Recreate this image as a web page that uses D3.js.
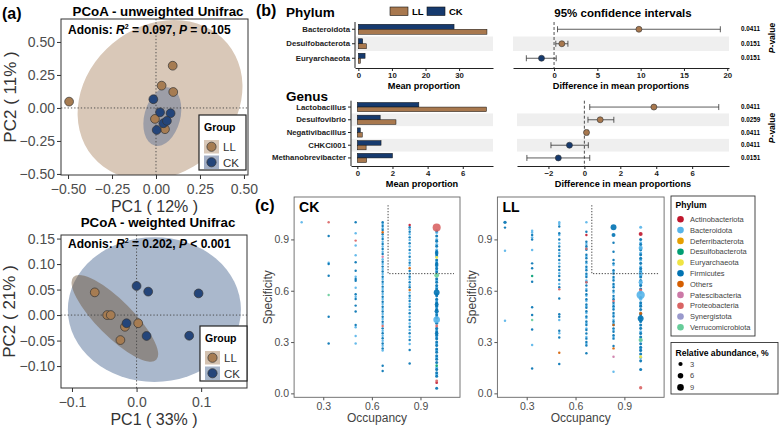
<!DOCTYPE html>
<html>
<head>
<meta charset="utf-8">
<script src="https://cdn.jsdelivr.net/npm/d3@7"></script>
<style>
  body { margin: 0; background: #fff; }
  svg { font-family: "Liberation Sans", Arial, Helvetica, sans-serif; }
</style>
</head>
<body>
<svg id="fig" width="779" height="429"></svg>
<script>
const FONT = '"Liberation Sans", Arial, Helvetica, sans-serif';

// ---------- (a) PCoA points [PC1, PC2]
const unwLL = [[-0.494, 0.048], [0.095, 0.32], [0.032, 0.169], [0.098, 0.121], [-0.006, -0.083], [0.051, -0.161]];
const unwCK = [[-0.015, 0.066], [0.023, -0.033], [0.083, -0.04], [0.042, -0.116], [0.004, -0.167], [0.062, -0.098]];
const wLL = [[-0.0647, 0.0445], [-0.0455, 0.0], [-0.04, 0.0], [-0.018, -0.023], [0.0025, -0.016], [-0.025, -0.049]];
const wCK = [[0, 0.057], [0.018, 0.046], [0.096, 0.0425], [-0.0155, -0.016], [0.0155, -0.041], [0.0815, -0.0405]];
// ellipses [cx, cy, rx, ry, angle]
const unwEllLL = [0.023, 0.06, 0.5, 0.56, -40];
const unwEllCK = [0.036, -0.066, 0.102, 0.227, 15];
const wEllCK = [0.0276, 0.0108, 0.134, 0.142, 0];
const wEllLL = [-0.0336, -0.0065, 0.0907, 0.0353, 45];

// ---------- (b) STAMP
const phyla = ["Bacteroidota", "Desulfobacterota", "Euryarchaeota"];
const phylaLL = [38.3, 2.4, 0.6];
const phylaCK = [28.5, 1.3, 2.0];
const phylaDiff = [9.8, 0.9, -1.45];
const phylaLo = [0.4, 0.2, -3.2];
const phylaHi = [19.2, 1.6, 0.25];
const phylaP = ["0.0411", "0.0151", "0.0151"];

const genera = ["Lactobacillus", "Desulfovibrio", "Negativibacillus", "CHKCI001", "Methanobrevibacter"];
const genusLL = [7.35, 2.2, 0.28, 0.5, 0.53];
const genusCK = [3.5, 1.3, 0.17, 1.35, 2.0];
const genusDiff = [3.87, 0.88, 0.12, -0.83, -1.45];
const genusLo = [0.3, 0.2, 0.05, -1.86, -3.2];
const genusHi = [7.48, 1.64, 0.2, 0.22, 0.3];
const genusP = ["0.0411", "0.0259", "0.0411", "0.0411", "0.0151"];

// ---------- (c) occupancy / specificity
const occupancy = [1 / 6, 2 / 6, 3 / 6, 4 / 6, 5 / 6, 1];
const baseAbund = [0.3, 0.3, 0.3, 0.3, 0.3, 1.0];
const phylumNames = ["Actinobacteriota", "Bacteroidota", "Deferribacterota", "Desulfobacterota", "Euryarchaeota",
  "Firmicutes", "Others", "Patescibacteria", "Proteobacteria", "Synergistota", "Verrucomicrobiota"];
const phylumColors = ["#c0162c", "#56b4e9", "#e69f00", "#009e73", "#f0e442",
  "#0072b2", "#d55e00", "#cc79a7", "#d96464", "#9999cc", "#66cc99"];
const abundTicks = [3, 6, 9];

const ckFirm = [
  [],
  [0.92, 0.756, 0.688, 0.448, 0.292],
  [1.0, 0.766, 0.717, 0.669, 0.659, 0.579, 0.552, 0.513, 0.478, 0.40],
  [1.0, 0.979, 0.955, 0.93, 0.903, 0.873, 0.844, 0.815, 0.77, 0.741, 0.712, 0.682, 0.653, 0.624, 0.595, 0.565, 0.536, 0.507, 0.478, 0.448, 0.419, 0.38, 0.351, 0.322, 0.292, 0.263, 0.162, 0.131],
  [0.971, 0.945, 0.912, 0.877, 0.838, 0.799, 0.764, 0.715, 0.682, 0.649, 0.62, 0.571, 0.54, 0.507, 0.468, 0.429, 0.39, 0.351, 0.312, 0.253, 0.175],
  [0.95, 0.92, 0.89, 0.86, 0.83, 0.81, 0.78, 0.76, 0.73, 0.71, 0.67, 0.65, 0.63, 0.61, 0.57, 0.55, 0.53, 0.51, 0.49, 0.46, 0.44, 0.41, 0.38, 0.36, 0.34, 0.32, 0.30, 0.28, 0.26, 0.24, 0.22, 0.20, 0.18, 0.14, 0.12, 0.10, 0.03]
];
const ckBact = [
  [1.0],
  [0.764],
  [0.936, 0.864, 0.807, 0.682, 0.618, 0.565, 0.386, 0.335, 0.292],
  [0.99, 0.965, 0.916, 0.887, 0.858, 0.828, 0.784, 0.756, 0.727, 0.698, 0.669, 0.639, 0.61, 0.581, 0.552, 0.522, 0.493, 0.464, 0.435, 0.405, 0.366, 0.337, 0.308, 0.279, 0.25],
  [0.959, 0.93, 0.897, 0.858, 0.819, 0.78, 0.749, 0.698, 0.667, 0.634, 0.589, 0.556, 0.522, 0.487, 0.448, 0.409, 0.37, 0.331, 0.288],
  [0.94, 0.90, 0.87, 0.84, 0.80, 0.77, 0.74, 0.72, 0.66, 0.62, 0.58, 0.54, 0.50, 0.47, 0.45, 0.42, 0.37, 0.33, 0.29, 0.25, 0.21, 0.15, 0.11]
];
// [column (1-6), specificity, phylum, relative abundance]
const ckExtra = [
  [2, 1.0, "Proteobacteria", 0.3], [2, 0.575, "Verrucomicrobiota", 0.3],
  [3, 0.893, "Proteobacteria", 0.3],
  [4, 0.942, "Others", 0.3], [4, 0.799, "Patescibacteria", 0.3], [4, 0.394, "Proteobacteria", 0.3],
  [5, 0.984, "Actinobacteriota", 0.3], [5, 0.731, "Others", 0.3], [5, 0.604, "Others", 0.3],
  [6, 0.82, "Firmicutes", 2], [6, 0.75, "Firmicutes", 2], [6, 0.52, "Firmicutes", 2.5], [6, 0.35, "Firmicutes", 2],
  [6, 0.969, "Proteobacteria", 14], [6, 0.795, "Euryarchaeota", 0.8], [6, 0.69, "Verrucomicrobiota", 4],
  [6, 0.59, "Firmicutes", 7], [6, 0.48, "Firmicutes", 3], [6, 0.43, "Bacteroidota", 9],
  [6, 0.394, "Proteobacteria", 0.8], [6, 0.162, "Desulfobacterota", 0.6],
  [6, 0.072, "Proteobacteria", 0.8], [6, 0.062, "Actinobacteriota", 0.6]
];

const llFirm = [
  [0.969],
  [0.926, 0.9, 0.76, 0.731, 0.653, 0.503, 0.458, 0.374, 0.146],
  [0.975, 0.936, 0.9, 0.858, 0.838, 0.803, 0.78, 0.741, 0.721, 0.686, 0.663, 0.62, 0.554, 0.462, 0.448, 0.366, 0.327, 0.172],
  [0.945, 0.887, 0.86, 0.84, 0.81, 0.79, 0.77, 0.74, 0.72, 0.70, 0.68, 0.65, 0.63, 0.60, 0.58, 0.55, 0.52, 0.50, 0.48, 0.45, 0.42, 0.40, 0.37, 0.35, 0.32, 0.30, 0.28, 0.234],
  [0.881, 0.828, 0.78, 0.76, 0.72, 0.70, 0.68, 0.66, 0.64, 0.62, 0.60, 0.57, 0.55, 0.53, 0.51, 0.49, 0.47, 0.45, 0.42, 0.40, 0.38, 0.36, 0.34, 0.32, 0.277],
  [0.90, 0.87, 0.84, 0.81, 0.79, 0.76, 0.73, 0.71, 0.68, 0.66, 0.63, 0.61, 0.56, 0.53, 0.51, 0.49, 0.46, 0.42, 0.40, 0.38, 0.35, 0.33, 0.29, 0.27, 0.25, 0.23, 0.19, 0.14]
];
const llBact = [
  [0.834, 0.425],
  [0.951, 0.94, 0.912, 0.838, 0.283],
  [1.0, 0.99, 0.926, 0.877, 0.819, 0.76, 0.702, 0.639, 0.429, 0.351],
  [1.0, 0.873, 0.85, 0.80, 0.76, 0.73, 0.69, 0.66, 0.61, 0.57, 0.54, 0.51, 0.47, 0.44, 0.41, 0.38, 0.33, 0.29],
  [0.75, 0.71, 0.67, 0.63, 0.59, 0.56, 0.52, 0.50, 0.46, 0.43, 0.41, 0.37, 0.33, 0.127],
  [0.971, 0.88, 0.85, 0.82, 0.78, 0.74, 0.72, 0.69, 0.64, 0.59, 0.55, 0.52, 0.47, 0.44, 0.36, 0.31, 0.26, 0.21]
];
const llExtra = [
  [1, 1.0, "Firmicutes", 1.5],
  [2, 0.686, "Desulfobacterota", 0.3], [2, 0.429, "Verrucomicrobiota", 0.3],
  [3, 0.608, "Proteobacteria", 0.3], [3, 0.238, "Others", 0.3],
  [4, 0.926, "Actinobacteriota", 0.3], [4, 0.845, "Proteobacteria", 0.3], [4, 0.65, "Proteobacteria", 0.3],
  [5, 0.971, "Firmicutes", 7], [5, 0.926, "Firmicutes", 2.5], [5, 0.54, "Proteobacteria", 0.3],
  [5, 0.40, "Others", 0.3], [5, 0.263, "Others", 0.3], [5, 0.214, "Patescibacteria", 0.3],
  [6, 0.932, "Actinobacteriota", 2.5], [6, 0.85, "Bacteroidota", 3], [6, 0.70, "Bacteroidota", 3],
  [6, 0.65, "Bacteroidota", 3], [6, 0.604, "Proteobacteria", 1.2], [6, 0.575, "Bacteroidota", 15],
  [6, 0.468, "Others", 1.2], [6, 0.438, "Firmicutes", 7], [6, 0.312, "Verrucomicrobiota", 3],
  [6, 0.214, "Euryarchaeota", 1], [6, 0.033, "Proteobacteria", 1.5]
];

const LLcol = "#a67c52", CKcol = "#24457a";
const barLL = "#a8784e", barCK = "#163a6e";

const svg = d3.select("#fig");

function label(g, x, y, s, size, opt = {}) {
  return g.append("text").attr("x", x).attr("y", y).text(s)
    .attr("font-size", size).attr("font-weight", opt.bold ? "bold" : null)
    .attr("text-anchor", opt.anchor || "start").attr("fill", opt.fill || "#000");
}

function styleAxis(ax, size, color, bold) {
  ax.attr("font-family", FONT);
  ax.selectAll("text").attr("font-size", size).attr("fill", color).attr("font-weight", bold ? "bold" : null);
}

// ================= (a) =================
function pcoa(cfg) {
  const g = svg.append("g");
  const [l, t, r, b] = cfg.box;
  const x = d3.scaleLinear().domain(cfg.xDomain).range([l, r]);
  const y = d3.scaleLinear().domain(cfg.yDomain).range([b, t]);
  g.append("clipPath").attr("id", "clip" + cfg.id).append("rect")
    .attr("x", l).attr("y", t).attr("width", r - l).attr("height", b - t);
  const pg = g.append("g").attr("clip-path", `url(#clip${cfg.id})`);
  cfg.ellipses.forEach(([e, fill, op]) => {
    const cx = x(e[0]), cy = y(e[1]);
    pg.append("ellipse").attr("cx", cx).attr("cy", cy)
      .attr("rx", x(e[0] + e[2]) - cx).attr("ry", cy - y(e[1] + e[3]))
      .attr("transform", `rotate(${e[4]},${cx},${cy})`)
      .attr("fill", fill).attr("fill-opacity", op);
  });
  pg.append("line").attr("x1", x(0)).attr("x2", x(0)).attr("y1", t).attr("y2", b)
    .attr("stroke", "#444").attr("stroke-width", 0.9).attr("stroke-dasharray", "1.3,2");
  pg.append("line").attr("x1", l).attr("x2", r).attr("y1", y(0)).attr("y2", y(0))
    .attr("stroke", "#444").attr("stroke-width", 0.9).attr("stroke-dasharray", "1.3,2");
  [[cfg.ll, LLcol], [cfg.ck, CKcol]].forEach(([pts, c]) => {
    pg.selectAll(null).data(pts).enter().append("circle")
      .attr("cx", d => x(d[0])).attr("cy", d => y(d[1])).attr("r", 4.4)
      .attr("fill", c).attr("stroke", "#333").attr("stroke-width", 0.7);
  });
  g.append("rect").attr("x", l).attr("y", t).attr("width", r - l).attr("height", b - t)
    .attr("fill", "none").attr("stroke", "#333").attr("stroke-width", 1);

  const ax = g.append("g").attr("transform", `translate(0,${b})`)
    .call(d3.axisBottom(x).tickValues(cfg.xTicks).tickFormat(d3.format(cfg.xFmt)).tickSize(4).tickPadding(5));
  ax.select(".domain").remove();
  ax.selectAll("line").attr("stroke", "#333");
  styleAxis(ax, 14, "#4d4d4d");
  const ay = g.append("g").attr("transform", `translate(${l},0)`)
    .call(d3.axisLeft(y).tickValues(cfg.yTicks).tickFormat(d3.format(cfg.yFmt)).tickSize(4).tickPadding(2));
  ay.select(".domain").remove();
  ay.selectAll("line").attr("stroke", "#333");
  styleAxis(ay, 14, "#4d4d4d");

  label(g, (l + r) / 2, b + 36.5, cfg.xTitle, 16, { anchor: "middle", fill: "#333" });
  g.append("text").attr("transform", `translate(${cfg.yTitleX},${(t + b) / 2}) rotate(-90)`)
    .attr("text-anchor", "middle").attr("dy", "0.35em").attr("font-size", 17).attr("fill", "#333").text(cfg.yTitle);
  label(g, 158, cfg.titleY, cfg.title, 13.3, { bold: true, anchor: "middle" });

  const ad = g.append("text").attr("x", l + 7).attr("y", cfg.adonisY).attr("font-size", 12).attr("font-weight", "bold");
  ad.append("tspan").text("Adonis: ");
  ad.append("tspan").attr("font-style", "italic").text("R");
  ad.append("tspan").attr("font-size", 7).attr("dy", -5).text("2");
  ad.append("tspan").attr("dy", 5).text(" = " + cfg.r2 + ", ");
  ad.append("tspan").attr("font-style", "italic").text("P");
  ad.append("tspan").text(cfg.p);

  const [lx, ly] = cfg.legend;
  g.append("rect").attr("x", lx).attr("y", ly).attr("width", 47).attr("height", 55)
    .attr("fill", "#fff").attr("stroke", "#222").attr("stroke-width", 1.2);
  label(g, lx + 5, ly + 16, "Group", 10.5, { bold: true });
  [["LL", LLcol, cfg.swatch[0]], ["CK", CKcol, cfg.swatch[1]]].forEach(([name, c, sw], i) => {
    const yy = ly + 25 + i * 15.5;
    g.append("rect").attr("x", lx + 5).attr("y", yy).attr("width", 15).attr("height", 13.5).attr("fill", sw);
    g.append("circle").attr("cx", lx + 12.5).attr("cy", yy + 6.75).attr("r", 4.6)
      .attr("fill", c).attr("stroke", "#333").attr("stroke-width", 0.7);
    label(g, lx + 24, yy + 11, name, 11.5, { fill: "#333" });
  });
}

label(svg, 2, 19, "(a)", 16, { bold: true });
pcoa({
  id: "u", box: [61, 19, 248, 175], xDomain: [-0.54, 0.523], yDomain: [-0.508, 0.674],
  xTicks: [-0.5, -0.25, 0, 0.25, 0.5], yTicks: [-0.5, -0.25, 0, 0.25, 0.5], xFmt: ".2f", yFmt: ".2f",
  ll: unwLL, ck: unwCK,
  ellipses: [[unwEllLL, "#d9c8b8", 1], [unwEllCK, "#3c5a8c", 0.38]],
  swatch: ["#d9c8b8", "#a3afc6"],
  xTitle: "PC1 ( 12% )", yTitle: "PC2 ( 11% )", yTitleX: 10, title: "PCoA - unweighted Unifrac", titleY: 16,
  r2: "0.097", p: " = 0.105", adonisY: 34, legend: [199, 115]
});
pcoa({
  id: "w", box: [61, 235, 247, 388], xDomain: [-0.117, 0.171], yDomain: [-0.143, 0.157],
  xTicks: [-0.1, 0, 0.1], yTicks: [-0.1, -0.05, 0, 0.05, 0.1, 0.15], xFmt: ".1f", yFmt: ".2f",
  ll: wLL, ck: wCK,
  ellipses: [[wEllCK, "#aab8cc", 1], [wEllLL, "#6b4f33", 0.45]],
  swatch: ["#d4c2b0", "#a5b4c9"],
  xTitle: "PC1 ( 33% )", yTitle: "PC2 ( 21% )", yTitleX: 9, title: "PCoA - weighted Unifrac", titleY: 227,
  r2: "0.202", p: " < 0.001", adonisY: 248, legend: [200, 326]
});

// ================= (b) =================
function bars(cfg) {
  const g = svg.append("g");
  const yb = d3.scaleBand().domain(cfg.cats).range(cfg.band);
  const x = d3.scaleLinear().domain(cfg.xDomain).range(cfg.xRange);
  cfg.cats.forEach((c, i) => {
    if (i % 2 === 1) g.append("rect").attr("x", cfg.xRange[0]).attr("y", yb(c)).attr("width", cfg.xRange[1] - cfg.xRange[0])
      .attr("height", yb.bandwidth()).attr("fill", "#efefef");
  });
  const h = cfg.barH;
  g.selectAll(null).data(cfg.cats).enter().append("rect")
    .attr("x", x(0)).attr("y", d => yb(d) + yb.bandwidth() / 2 - h)
    .attr("width", (d, i) => x(cfg.ck[i]) - x(0)).attr("height", h)
    .attr("fill", barCK).attr("stroke", "#111").attr("stroke-width", 0.5);
  g.selectAll(null).data(cfg.cats).enter().append("rect")
    .attr("x", x(0)).attr("y", d => yb(d) + yb.bandwidth() / 2)
    .attr("width", (d, i) => x(cfg.ll[i]) - x(0)).attr("height", h)
    .attr("fill", barLL).attr("stroke", "#111").attr("stroke-width", 0.5);
  const ax = g.append("g").attr("transform", `translate(0,${cfg.axisY})`)
    .call(d3.axisBottom(x).tickValues(cfg.ticks).tickSize(3).tickPadding(1.5).tickSizeOuter(0));
  ax.select(".domain").attr("stroke", "#222");
  ax.selectAll("line").attr("stroke", "#222");
  styleAxis(ax, 7.8, "#222", true);
  const ay = g.append("g").attr("transform", `translate(${cfg.xRange[0]},0)`)
    .call(d3.axisLeft(yb).tickSize(3).tickPadding(2).tickSizeOuter(0));
  ay.select(".domain").remove();
  ay.selectAll("line").attr("stroke", "#222");
  styleAxis(ay, 7.8, "#222", true);
  g.append("line").attr("x1", cfg.xRange[0]).attr("x2", cfg.xRange[0]).attr("y1", cfg.band[0]).attr("y2", cfg.axisY)
    .attr("stroke", "#222");
  label(g, (cfg.xRange[0] + cfg.xRange[1]) / 2, cfg.axisY + 21, "Mean proportion", 9.2, { bold: true, anchor: "middle" });
}

function ci(cfg) {
  const g = svg.append("g");
  const yb = d3.scaleBand().domain(cfg.cats).range(cfg.band);
  const x = d3.scaleLinear().domain(cfg.xDomain).range(cfg.xRange);
  cfg.cats.forEach((c, i) => {
    if (i % 2 === 1) g.append("rect").attr("x", cfg.xRange[0]).attr("y", yb(c)).attr("width", cfg.xRange[1] - cfg.xRange[0])
      .attr("height", yb.bandwidth()).attr("fill", "#efefef");
  });
  g.append("line").attr("x1", x(0)).attr("x2", x(0)).attr("y1", cfg.band[0]).attr("y2", cfg.axisY)
    .attr("stroke", "#222").attr("stroke-width", 0.8).attr("stroke-dasharray", "3,2");
  const cy = d => yb(d) + yb.bandwidth() / 2;
  cfg.cats.forEach((c, i) => {
    const yy = cy(c);
    g.append("line").attr("x1", x(cfg.lo[i])).attr("x2", x(cfg.hi[i])).attr("y1", yy).attr("y2", yy)
      .attr("stroke", "#333").attr("stroke-width", 0.8);
    [cfg.lo[i], cfg.hi[i]].forEach(v => g.append("line").attr("x1", x(v)).attr("x2", x(v))
      .attr("y1", yy - 3).attr("y2", yy + 3).attr("stroke", "#333").attr("stroke-width", 0.8));
  });
  g.selectAll(null).data(cfg.cats).enter().append("circle")
    .attr("cx", (d, i) => x(cfg.diff[i])).attr("cy", cy).attr("r", 3)
    .attr("fill", (d, i) => cfg.diff[i] > 0 ? barLL : barCK).attr("stroke", "#333").attr("stroke-width", 0.6);
  g.selectAll(null).data(cfg.cats).enter().append("text")
    .attr("x", 741).attr("y", d => cy(d) + 2.2).attr("font-size", 6.3).attr("font-weight", "bold")
    .text((d, i) => cfg.p[i]);
  const pv = g.append("text").attr("transform", `translate(775,${cfg.pLabelY}) rotate(-90)`)
    .attr("text-anchor", "middle").attr("font-size", 8.5).attr("font-weight", "bold");
  pv.append("tspan").attr("font-style", "italic").text("P");
  pv.append("tspan").text("-value");
  const ax = g.append("g").attr("transform", `translate(0,${cfg.axisY})`)
    .call(d3.axisBottom(x).tickValues(cfg.ticks).tickSize(3).tickPadding(1.5).tickSizeOuter(0));
  ax.select(".domain").attr("stroke", "#222");
  ax.selectAll("line").attr("stroke", "#222");
  styleAxis(ax, 7.8, "#222", true);
  label(g, (cfg.xRange[0] + cfg.xRange[1]) / 2, cfg.axisY + 21, "Difference in mean proportions", 9.2, { bold: true, anchor: "middle" });
}

label(svg, 256, 16, "(b)", 16, { bold: true });
label(svg, 286, 17, "Phylum", 13.5, { bold: true });
label(svg, 286, 101, "Genus", 13.5, { bold: true });
label(svg, 623, 17, "95% confidence intervals", 11.5, { bold: true, anchor: "middle" });
[["LL", barLL, 390], ["CK", barCK, 427]].forEach(([n, c, xx]) => {
  svg.append("rect").attr("x", xx).attr("y", 7).attr("width", 18).attr("height", 8.5)
    .attr("fill", c).attr("stroke", "#111").attr("stroke-width", 0.6);
  label(svg, xx + 22, 15, n, 9.5, { bold: true });
});

bars({ cats: phyla, ll: phylaLL, ck: phylaCK, band: [22, 65.5], axisY: 68, xDomain: [-1, 40.1], xRange: [355, 493],
  ticks: [0, 10, 20, 30], barH: 5 });
bars({ cats: genera, ll: genusLL, ck: genusCK, band: [100.7, 164.3], axisY: 166, xDomain: [-0.36, 7.72], xRange: [351, 493],
  ticks: [0, 2, 4, 6], barH: 4.6 });
ci({ cats: phyla, diff: phylaDiff, lo: phylaLo, hi: phylaHi, p: phylaP, band: [22, 65.5], axisY: 68,
  xDomain: [-4.74, 20.2], xRange: [513, 729], ticks: [0, 5, 10, 15, 20], pLabelY: 38 });
ci({ cats: genera, diff: genusDiff, lo: genusLo, hi: genusHi, p: genusP, band: [100.7, 164.3], axisY: 166,
  xDomain: [-3.75, 8.05], xRange: [517, 729], ticks: [-2, 0, 2, 4, 6], pLabelY: 128 });

// ================= (c) =================
const phylumColor = d3.scaleOrdinal().domain(phylumNames).range(phylumColors);
const areaScale = d3.scaleLinear().domain([0, 9]).range([1.2, 10.9]);
const radius = v => Math.sqrt(areaScale(v));

function buildPoints(firm, bact, extra) {
  const pts = [];
  bact.forEach((col, i) => col.forEach(s => pts.push({ occ: occupancy[i], spec: s, phylum: "Bacteroidota", ab: baseAbund[i] })));
  firm.forEach((col, i) => col.forEach(s => pts.push({ occ: occupancy[i], spec: s, phylum: "Firmicutes", ab: baseAbund[i] })));
  extra.slice().sort((a, b) => a[3] - b[3])
    .forEach(e => pts.push({ occ: occupancy[e[0] - 1], spec: e[1], phylum: e[2], ab: e[3] }));
  return pts;
}

function occPanel(cfg) {
  const g = svg.append("g");
  const [l, t, r, b] = cfg.box;
  const x = d3.scaleLinear().domain([0.12, 1.144]).range([l, r]);
  const y = d3.scaleLinear().domain([-0.023, 1.148]).range([b, t]);
  g.append("rect").attr("x", l).attr("y", t).attr("width", r - l).attr("height", b - t)
    .attr("fill", "#fff").attr("stroke", "#666").attr("stroke-width", 0.9);
  g.selectAll(null).data(cfg.points).enter().append("circle")
    .attr("cx", d => x(d.occ)).attr("cy", d => y(d.spec)).attr("r", d => radius(d.ab))
    .attr("fill", d => phylumColor(d.phylum)).attr("fill-opacity", 0.9);
  g.append("path").attr("d", `M${x(0.7)},${y(1.1)}V${y(0.7)}H${x(1.107)}`)
    .attr("fill", "none").attr("stroke", "#333").attr("stroke-width", 0.9).attr("stroke-dasharray", "1.3,1.6");
  const ax = g.append("g").attr("transform", `translate(0,${b})`)
    .call(d3.axisBottom(x).tickValues([0.3, 0.6, 0.9]).tickFormat(d3.format(".1f")).tickSize(3).tickPadding(2));
  ax.select(".domain").remove();
  ax.selectAll("line").attr("stroke", "#555");
  styleAxis(ax, 10.5, "#4d4d4d");
  const ay = g.append("g").attr("transform", `translate(${l},0)`)
    .call(d3.axisLeft(y).tickValues([0, 0.3, 0.6, 0.9]).tickFormat(d3.format(".1f")).tickSize(3).tickPadding(2));
  ay.select(".domain").remove();
  ay.selectAll("line").attr("stroke", "#555");
  styleAxis(ay, 10.5, "#4d4d4d");
  label(g, (l + r) / 2, 422, "Occupancy", 12, { anchor: "middle", fill: "#444" });
  g.append("text").attr("transform", `translate(${l - 26},${(t + b) / 2}) rotate(-90)`)
    .attr("text-anchor", "middle").attr("dy", "0.35em").attr("font-size", 12).attr("fill", "#444").text("Specificity");
  label(g, l + 5, 212, cfg.name, 14, { bold: true });
}

label(svg, 255, 211, "(c)", 16, { bold: true });
occPanel({ name: "CK", box: [294.1, 197, 460, 397.3], points: buildPoints(ckFirm, ckBact, ckExtra) });
occPanel({ name: "LL", box: [497.4, 197, 664.1, 397.3], points: buildPoints(llFirm, llBact, llExtra) });

// legends
const lg = svg.append("g");
lg.append("rect").attr("x", 671).attr("y", 196).attr("width", 84).attr("height", 140)
  .attr("fill", "#fff").attr("stroke", "#333").attr("stroke-width", 0.9);
label(lg, 675.5, 207.5, "Phylum", 8.6, { bold: true });
lg.selectAll(null).data(phylumNames).enter().append("circle")
  .attr("cx", 680.5).attr("cy", (d, i) => 219.3 + i * 10.8).attr("r", 3.3).attr("fill", d => phylumColor(d));
lg.selectAll(null).data(phylumNames).enter().append("text")
  .attr("x", 690).attr("y", (d, i) => 219.3 + i * 10.8 + 2.7).attr("font-size", 7.5).attr("fill", "#444").text(d => d);

lg.append("rect").attr("x", 671).attr("y", 342.5).attr("width", 107).attr("height", 51.5)
  .attr("fill", "#fff").attr("stroke", "#333").attr("stroke-width", 0.9);
label(lg, 675.5, 356, "Relative abundance, %", 8.6, { bold: true });
lg.selectAll(null).data(abundTicks).enter().append("circle")
  .attr("cx", 680.5).attr("cy", (d, i) => 364 + i * 11.7).attr("r", d => radius(d)).attr("fill", "#000");
lg.selectAll(null).data(abundTicks).enter().append("text")
  .attr("x", 690).attr("y", (d, i) => 364 + i * 11.7 + 2.7).attr("font-size", 7.5).attr("fill", "#444").text(d => d);
</script>
</body>
</html>
